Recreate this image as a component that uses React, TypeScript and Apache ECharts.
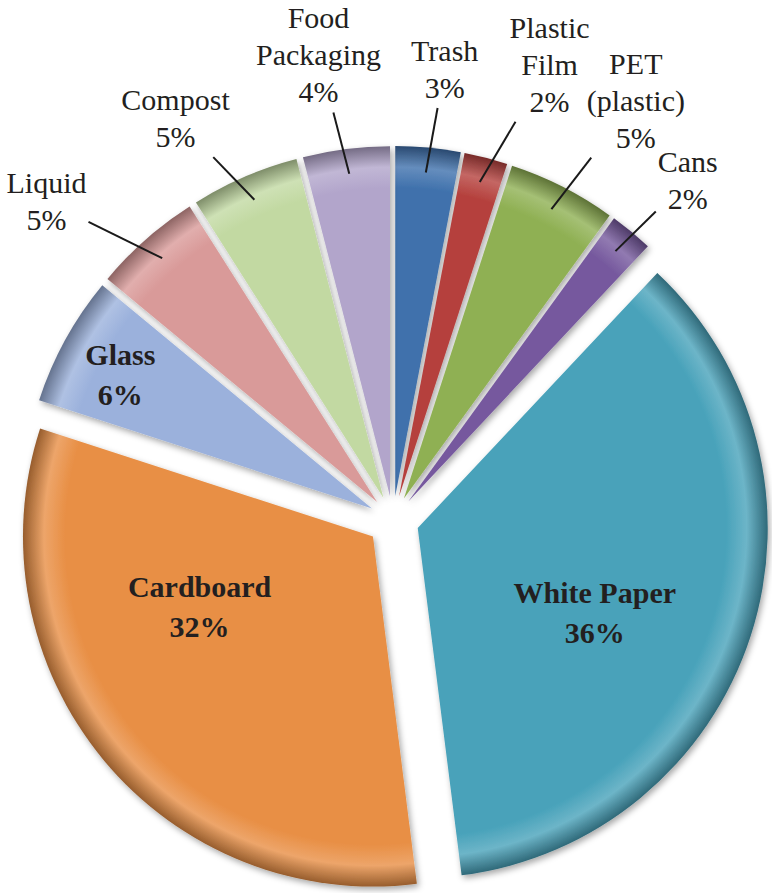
import React, { useEffect, useRef } from "react";
import * as echarts from "echarts";

// ---- data ----
const categories = [
  "Trash",
  "Plastic Film",
  "PET (plastic)",
  "Cans",
  "White Paper",
  "Cardboard",
  "Glass",
  "Liquid",
  "Compost",
  "Food Packaging",
];
const labelTexts = [
  "Trash",
  "Plastic\nFilm",
  "PET\n(plastic)",
  "Cans",
  "White Paper",
  "Cardboard",
  "Glass",
  "Liquid",
  "Compost",
  "Food\nPackaging",
];
const shares = [3, 2, 5, 2, 36, 32, 6, 5, 5, 4];

// ---- styles / layout ----
const colors = [
  "#3F71AC",
  "#B5413D",
  "#8FB053",
  "#76599E",
  "#48A2BA",
  "#E88F45",
  "#9BB1DC",
  "#D99A99",
  "#C2D9A2",
  "#B2A5CB",
];
const W = 772;
const H = 893;
const CX = 393;
const CY = 520;
const R = 350;
const explode = [24, 24, 24, 24, 26, 26, 24, 24, 24, 24];
const insideLabel = [false, false, false, false, true, true, true, false, false, false];
const labelDist = [430, 458, 461, 426, 196, 187, 285, 447, 433, 447];
const labelShift = [1.2, 4.8, 3.2, 1.4, 7.4, 17.6, -0.8, -6.3, -5.3, -2];
const lineInset = 25;
const FONT = "Liberation Serif";

function shade(hex: string, f: number): string {
  const n = parseInt(hex.slice(1), 16);
  let r = (n >> 16) & 255,
    g = (n >> 8) & 255,
    b = n & 255;
  if (f >= 0) {
    r = r + (255 - r) * f;
    g = g + (255 - g) * f;
    b = b + (255 - b) * f;
  } else {
    r = r * (1 + f);
    g = g * (1 + f);
    b = b * (1 + f);
  }
  return `rgb(${Math.round(r)},${Math.round(g)},${Math.round(b)})`;
}

function dirOf(deg: number): [number, number] {
  const a = (deg * Math.PI) / 180;
  return [Math.sin(a), -Math.cos(a)];
}

export default function App() {
  const ref = useRef<HTMLDivElement>(null);

  useEffect(() => {
    if (!ref.current) return;
    const chart = echarts.init(ref.current, null, { renderer: "svg" });
    const total = shares.reduce((a, b) => a + b, 0);
    let cum = 0;
    const mids = shares.map((v) => {
      const m = ((cum + v / 2) / total) * 360;
      cum += v;
      return m;
    });
    const centers = mids.map((m, i) => {
      const [ux, uy] = dirOf(m);
      return [CX + ux * explode[i], CY + uy * explode[i]];
    });

    // one pie per slice (each translated along its mid-angle = exploded slice)
    const sliceSeries = shares.map((_, i) => {
      const [sx, sy] = centers[i];
      return {
        type: "pie",
        z: 2,
        center: [sx, sy],
        radius: R,
        startAngle: 90,
        clockwise: true,
        silent: true,
        emphasis: { disabled: true },
        label: { show: false },
        labelLine: { show: false },
        data: shares.map((v, j) => ({
          name: categories[j],
          value: v,
          itemStyle:
            j === i
              ? {
                  color: new echarts.graphic.RadialGradient(
                    sx,
                    sy,
                    R,
                    [
                      { offset: 0, color: colors[j] },
                      { offset: 0.88, color: colors[j] },
                      { offset: 0.94, color: shade(colors[j], 0.2) },
                      { offset: 1, color: shade(colors[j], -0.35) },
                    ],
                    true
                  ),
                  borderWidth: 0,
                  shadowBlur: 6,
                  shadowColor: "rgba(0,0,0,0.35)",
                  shadowOffsetX: 2,
                  shadowOffsetY: 3,
                }
              : { color: "rgba(0,0,0,0)", opacity: 0, borderWidth: 0 },
        })),
      };
    });

    // transparent overlay pie that carries the labels and leader lines on top
    const labelSeries = {
      type: "pie",
      z: 5,
      center: [CX, CY],
      radius: R,
      startAngle: 90,
      clockwise: true,
      silent: true,
      avoidLabelOverlap: false,
      emphasis: { disabled: true },
      itemStyle: { color: "rgba(0,0,0,0)", borderWidth: 0 },
      label: {
        show: true,
        position: "outside",
        formatter: (p: any) => `${labelTexts[p.dataIndex]}\n${shares[p.dataIndex]}%`,
        fontFamily: FONT,
        fontSize: 30,
        color: "#231f20",
        opacity: 1,
        lineHeight: 37,
      },
      labelLine: {
        show: true,
        showAbove: true,
        length: 10,
        length2: 0,
        lineStyle: { color: "#1a1a1a", width: 2, opacity: 1 },
      },
      labelLayout: (p: any) => {
        const i = p.dataIndex;
        const [sx, sy] = centers[i];
        const [ux, uy] = dirOf(mids[i]);
        const [lx0, ly0] = dirOf(mids[i] + labelShift[i]);
        const lx = sx + lx0 * labelDist[i];
        const ly = sy + ly0 * labelDist[i];
        const out: any = { x: lx, y: ly, align: "center", verticalAlign: "middle" };
        if (!insideLabel[i]) {
          const ax = sx + ux * (R - lineInset);
          const ay = sy + uy * (R - lineInset);
          const w = p.labelRect.width / 2 + 2;
          const h = p.labelRect.height / 2 + 2;
          const dx = ax - lx;
          const dy = ay - ly;
          const tx = Math.abs(dx) > 1e-6 ? w / Math.abs(dx) : Infinity;
          const ty = Math.abs(dy) > 1e-6 ? h / Math.abs(dy) : Infinity;
          const t = Math.min(tx, ty);
          const ex = lx + dx * t;
          const ey = ly + dy * t;
          out.labelLinePoints = [
            [ax, ay],
            [ex, ey],
            [ex, ey],
          ];
        }
        return out;
      },
      data: shares.map((v, j) => ({
        name: categories[j],
        value: v,
        label: insideLabel[j]
          ? { show: true, position: "inside", fontWeight: "bold", lineHeight: 40 }
          : { show: true },
        labelLine: { show: !insideLabel[j] },
      })),
    };

    chart.setOption({
      animation: false,
      backgroundColor: "#ffffff",
      series: [...sliceSeries, labelSeries],
    } as any);

    return () => {
      chart.dispose();
    };
  }, []);

  return (
    <div
      ref={ref}
      style={{ position: "absolute", left: 0, top: 0, width: W, height: H }}
    />
  );
}
